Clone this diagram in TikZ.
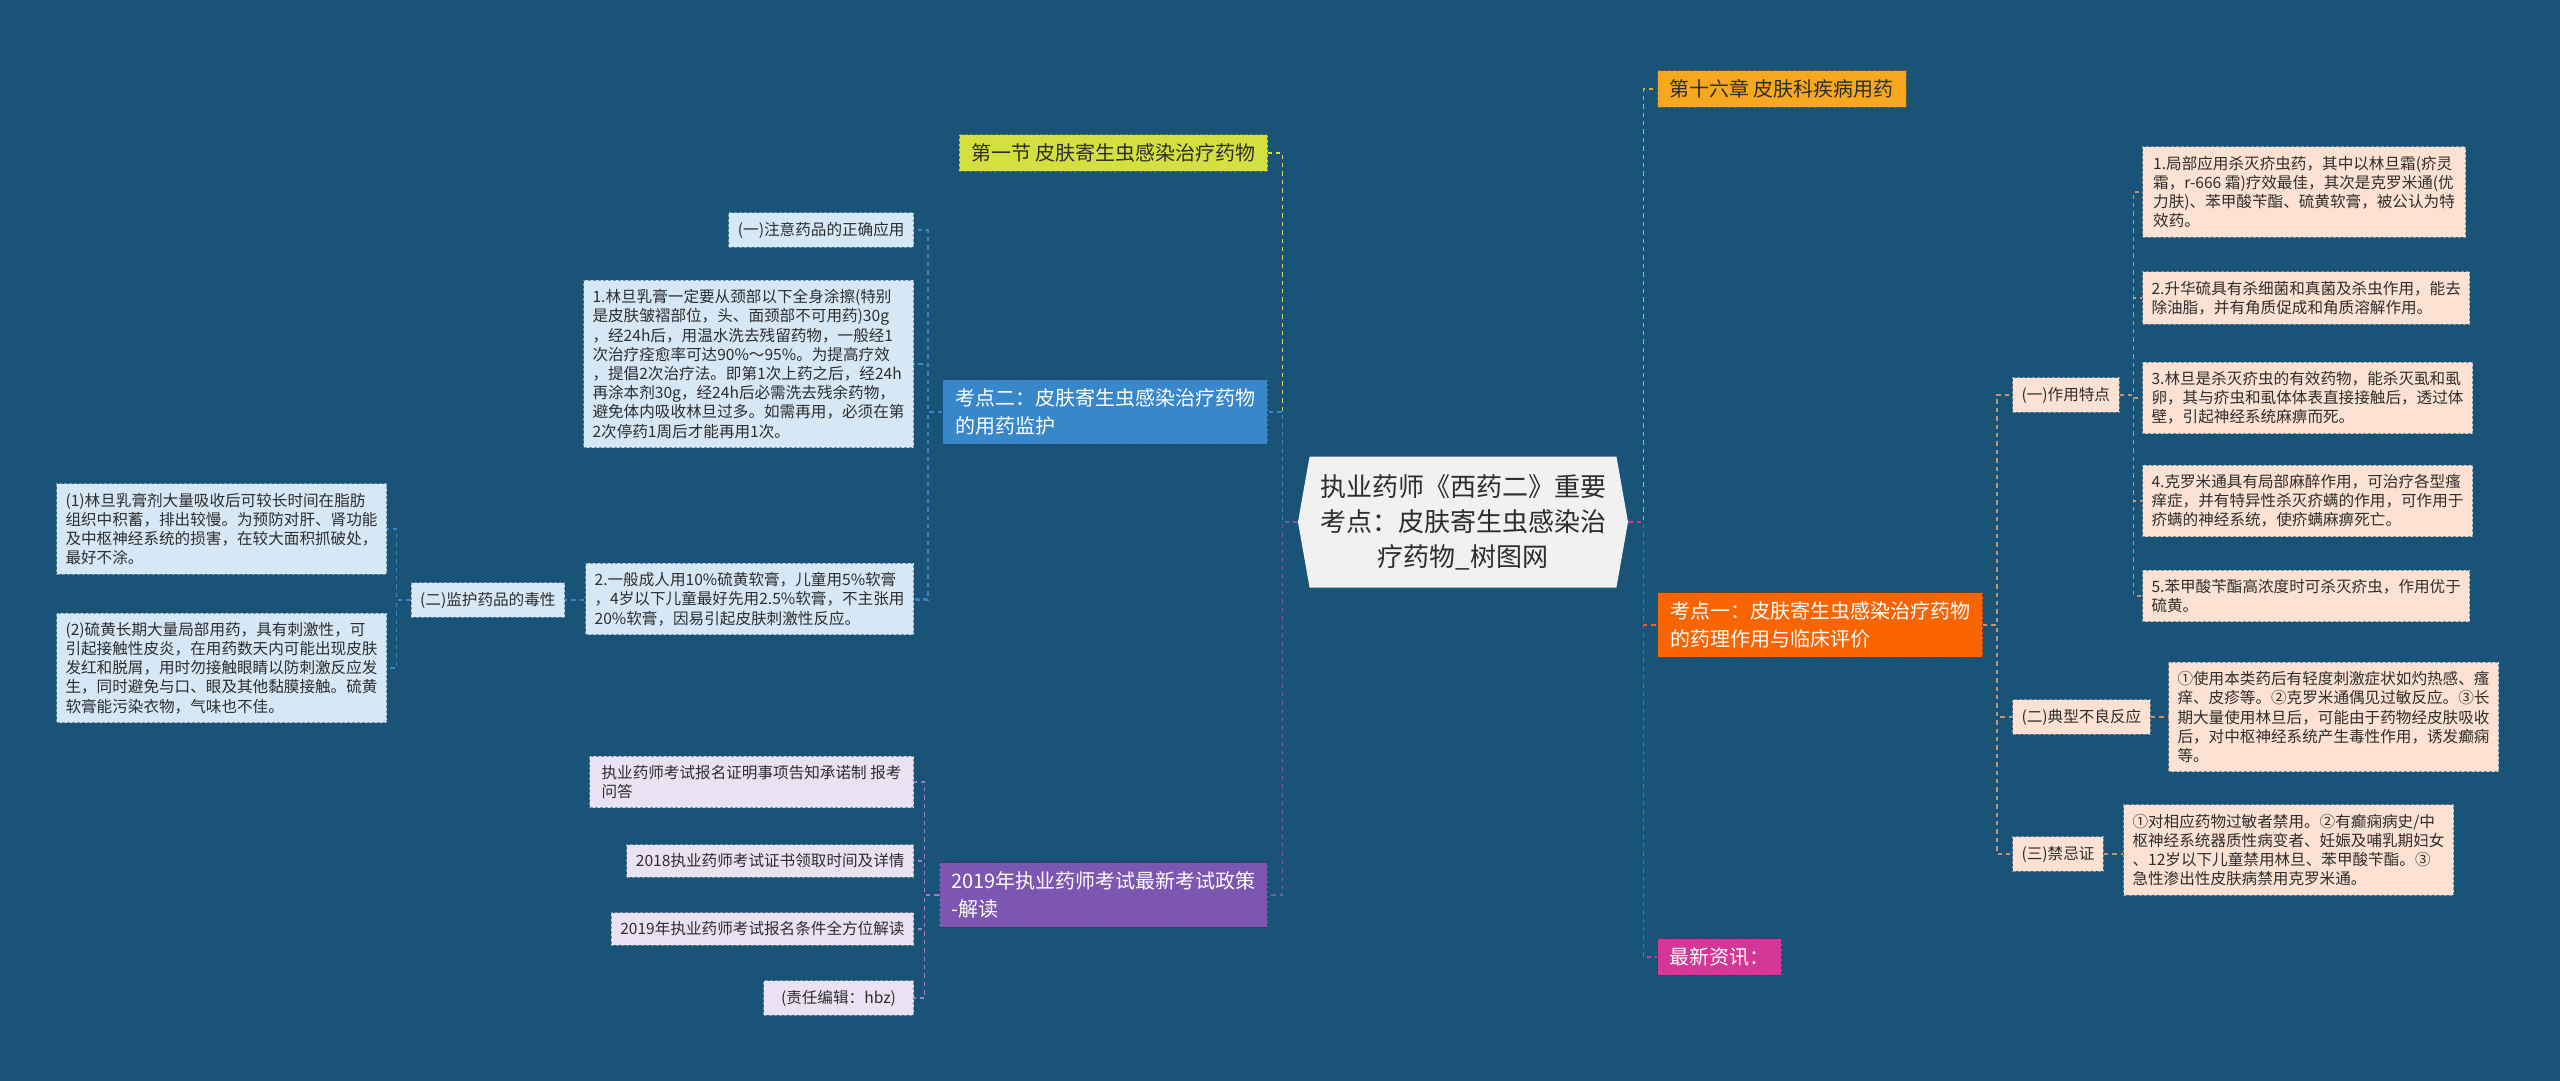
\documentclass[tikz,border=0pt]{standalone}
\usepackage{fontspec}
\usepackage{xcolor}
\usepackage{tikz}
\usetikzlibrary{shapes.symbols, positioning, backgrounds}
\newfontfamily\cjk{Noto Sans CJK SC}
\definecolor{twBg}{RGB}{ 26, 83,120}
\definecolor{twCtr}{RGB}{241,241,241}
\definecolor{twInk}{RGB}{ 45, 45, 45}
\definecolor{twLime}{RGB}{211,224, 64}
\definecolor{twBlue}{RGB}{ 56,135,203}
\definecolor{twPurple}{RGB}{125, 86,178}
\definecolor{twAmber}{RGB}{247,168, 30}
\definecolor{twOrange}{RGB}{250,101,  0}
\definecolor{twPink}{RGB}{214, 54,152}
\definecolor{twSky}{RGB}{214,231,246}
\definecolor{twLav}{RGB}{232,226,243}
\definecolor{twPeach}{RGB}{253,226,211}
\definecolor{twTan}{RGB}{205,145,105}

\begin{document}
\begin{tikzpicture}[x=0.5pt, y=-0.5pt,
    hub/.style={signal, signal to=east and west, signal pointer angle=160, fill=twCtr,
                text=twInk, minimum width=165pt, minimum height=65.5pt, align=center,
                font=\cjk\fontsize{13}{17.5}\selectfont},
    lvl/.style={fill=#1, draw=#1!55!black, dash pattern=on 1.5pt off 1pt, line width=0.5pt,
                inner xsep=6pt, inner ysep=4.5pt, align=left, font=\cjk\fontsize{10}{14}\selectfont},
    leafbox/.style={fill=#1, draw=#1!45!twBg, dash pattern=on 1.5pt off 1pt, line width=0.5pt,
                inner xsep=4.5pt, inner ysep=4.5pt, text=twInk, align=left,
                font=\cjk\fontsize{7.8}{9.6}\selectfont},
    conn/.style={draw=#1, line width=0.8pt, dash pattern=on 2.2pt off 2pt}
  ]
  \begin{scope}[on background layer]
    \fill[twBg] (0,0) rectangle (2560,1081);
  \end{scope}
  \node[hub] (ctr) at (1463,522) {执业药师《西药二》重要\\考点：皮肤寄生虫感染治\\疗药物\_树图网};

  \node[lvl=twLime, text=twInk, anchor=east] (sec1) at (1268,153) {第一节 皮肤寄生虫感染治疗药物};
  \node[lvl=twBlue, text=white, anchor=east, minimum width=162.5pt] (kd2) at (1268,412)
       {考点二：皮肤寄生虫感染治疗药物\\的用药监护};
  \node[lvl=twPurple, text=white, anchor=east, minimum width=162.5pt] (exam) at (1268,895)
       {2019年执业药师考试最新考试政策\\-解读};
  \node[lvl=twAmber, text=twInk, anchor=west] (ch16) at (1657,89) {第十六章 皮肤科疾病用药};
  \node[lvl=twOrange, text=white, anchor=west, minimum width=162.5pt] (kd1) at (1657,625)
       {考点一：皮肤寄生虫感染治疗药物\\的药理作用与临床评价};
  \node[lvl=twPink, text=white, anchor=west] (news) at (1657,957) {最新资讯：};

  \node[leafbox=twSky, anchor=east] (use) at (914,230) {(一)注意药品的正确应用};
  \node[leafbox=twSky, anchor=east, minimum width=161.5pt] (lin) at (914,364)
       {1.林旦乳膏一定要从颈部以下全身涂擦(特别\\是皮肤皱褶部位，头、面颈部不可用药)30g\\，经24h后，用温水洗去残留药物，一般经1\\次治疗痊愈率可达90\%～95\%。为提高疗效\\，提倡2次治疗法。即第1次上药之后，经24h\\再涂本剂30g，经24h后必需洗去残余药物，\\避免体内吸收林旦过多。如需再用，必须在第\\2次停药1周后才能再用1次。};
  \node[leafbox=twSky, anchor=east] (tox) at (565,600) {(二)监护药品的毒性};
  \node[leafbox=twSky, anchor=east, minimum width=161.5pt] (sul) at (914,599)
       {2.一般成人用10\%硫黄软膏，儿童用5\%软膏\\，4岁以下儿童最好先用2.5\%软膏，不主张用\\20\%软膏，因易引起皮肤刺激性反应。};
  \node[leafbox=twSky, anchor=east, minimum width=161.5pt] (toxa) at (387,529)
       {(1)林旦乳膏剂大量吸收后可较长时间在脂肪\\组织中积蓄，排出较慢。为预防对肝、肾功能\\及中枢神经系统的损害，在较大面积抓破处，\\最好不涂。};
  \node[leafbox=twSky, anchor=east, minimum width=161.5pt] (toxb) at (387,668)
       {(2)硫黄长期大量局部用药，具有刺激性，可\\引起接触性皮炎，在用药数天内可能出现皮肤\\发红和脱屑，用时勿接触眼睛以防刺激反应发\\生，同时避免与口、眼及其他黏膜接触。硫黄\\软膏能污染衣物，气味也不佳。};

  \node[leafbox=twLav, anchor=east, minimum width=162pt] (qa) at (914,782)
       {执业药师考试报名证明事项告知承诺制 报考\\问答};
  \node[leafbox=twLav, anchor=east] (qb) at (914,861) {2018执业药师考试证书领取时间及详情};
  \node[leafbox=twLav, anchor=east] (qc) at (914,929) {2019年执业药师考试报名条件全方位解读};
  \node[leafbox=twLav, anchor=east, minimum width=75pt] (qd) at (914,998) {(责任编辑：hbz)};

  \node[leafbox=twPeach, anchor=west] (feat) at (2012,395) {(一)作用特点};
  \node[leafbox=twPeach, anchor=west] (adv) at (2012,717) {(二)典型不良反应};
  \node[leafbox=twPeach, anchor=west] (ban) at (2012,854) {(三)禁忌证};
  \node[leafbox=twPeach, anchor=west, minimum width=161.5pt] (ea) at (2142,192)
       {1.局部应用杀灭疥虫药，其中以林旦霜(疥灵\\霜，r-666 霜)疗效最佳，其次是克罗米通(优\\力肤)、苯甲酸苄酯、硫黄软膏，被公认为特\\效药。};
  \node[leafbox=twPeach, anchor=west, minimum width=161.5pt] (eb) at (2142,298)
       {2.升华硫具有杀细菌和真菌及杀虫作用，能去\\除油脂，并有角质促成和角质溶解作用。};
  \node[leafbox=twPeach, anchor=west, minimum width=161.5pt] (ec) at (2142,398)
       {3.林旦是杀灭疥虫的有效药物，能杀灭虱和虱\\卵，其与疥虫和虱体体表直接接触后，透过体\\壁，引起神经系统麻痹而死。};
  \node[leafbox=twPeach, anchor=west, minimum width=161.5pt] (ed) at (2142,501)
       {4.克罗米通具有局部麻醉作用，可治疗各型瘙\\痒症，并有特异性杀灭疥螨的作用，可作用于\\疥螨的神经系统，使疥螨麻痹死亡。};
  \node[leafbox=twPeach, anchor=west, minimum width=161.5pt] (ee) at (2142,596)
       {5.苯甲酸苄酯高浓度时可杀灭疥虫，作用优于\\硫黄。};
  \node[leafbox=twPeach, anchor=west, minimum width=161.5pt] (advx) at (2168,717)
       {①使用本类药后有轻度刺激症状如灼热感、瘙\\痒、皮疹等。②克罗米通偶见过敏反应。③长\\期大量使用林旦后，可能由于药物经皮肤吸收\\后，对中枢神经系统产生毒性作用，诱发癫痫\\等。};
  \node[leafbox=twPeach, anchor=west, minimum width=161.5pt] (banx) at (2123,850)
       {①对相应药物过敏者禁用。②有癫痫病史/中\\枢神经系统器质性病变者、妊娠及哺乳期妇女\\、12岁以下儿童禁用林旦、苯甲酸苄酯。③\\急性渗出性皮肤病禁用克罗米通。};

  \begin{scope}[on background layer]
    \draw[conn=twLime] (ctr.west) -- ++(-15,0) |- (sec1.east);
    \draw[conn=twBlue] (ctr.west) -- ++(-15,0) |- (kd2.east);
    \draw[conn=twPurple] (ctr.west) -- ++(-15,0) |- (exam.east);
    \draw[conn=twAmber] (ctr.east) -- ++(15,0) |- (ch16.west);
    \draw[conn=twOrange] (ctr.east) -- ++(15,0) |- (kd1.west);
    \draw[conn=twPink] (ctr.east) -- ++(15,0) |- (news.west);
    \foreach \k in {use,lin,tox,sul} \draw[conn=twBlue] (kd2.west) -- ++(-14,0) |- (\k.east);
    \foreach \k in {toxa,toxb} \draw[conn=twBlue] (tox.west) -- ++(-14,0) |- (\k.east);
    \foreach \k in {qa,qb,qc,qd} \draw[conn=twPurple!75!white] (exam.west) -- ++(-14,0) |- (\k.east);
    \foreach \k in {feat,adv,ban} \draw[conn=twTan] (kd1.east) -- ++(14,0) |- (\k.west);
    \foreach \k in {ea,eb,ec,ed,ee} \draw[conn=twTan] (feat.east) -- ++(14,0) |- (\k.west);
    \draw[conn=twTan] (adv.east) -- (adv.east -| advx.west);
    \draw[conn=twTan] (ban.east) -- (ban.east -| banx.west);
  \end{scope}
\end{tikzpicture}
\end{document}
